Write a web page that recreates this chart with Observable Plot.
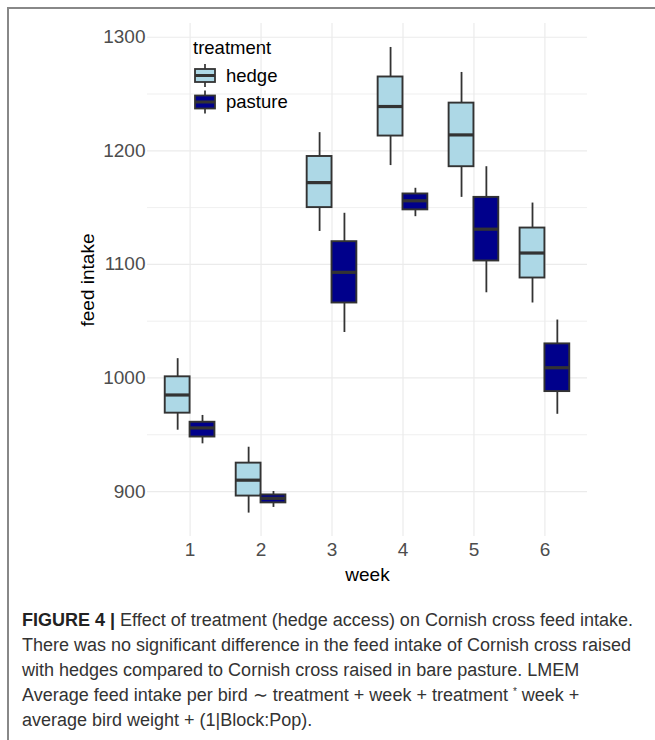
<!DOCTYPE html>
<html>
<head>
<meta charset="utf-8">
<script src="https://cdn.jsdelivr.net/npm/d3@7"></script>
<script src="https://cdn.jsdelivr.net/npm/@observablehq/plot@0.6"></script>
<style>
  html, body { margin: 0; padding: 0; background: #fff; }
  #figure { position: relative; width: 655px; height: 740px; overflow: hidden;
            font-family: "Liberation Sans", Arial, Helvetica, sans-serif; }
  #frame { position: absolute; left: 7px; top: 7px; width: 700px; height: 800px;
           border-top: 2px solid #888; border-left: 2px solid #888; }
  #chart, #legend { position: absolute; left: 0; top: 0; }
  #caption { position: absolute; left: 22px; top: 608px; font-size: 18px; line-height: 25px;
             color: #333; white-space: nowrap; letter-spacing: 0px; }
  #caption b { color: #222; }
  #caption .star { position: relative; top: -6px; font-size: 10px; line-height: 0; }
</style>
</head>
<body>
<div id="figure">
  <div id="frame"></div>
  <div id="chart"></div>
  <div id="legend"></div>
  <div id="caption">
    <b>FIGURE 4 |</b> Effect of treatment (hedge access) on Cornish cross feed intake.<br>
    There was no significant difference in the feed intake of Cornish cross raised<br>
    with hedges compared to Cornish cross raised in bare pasture. LMEM<br>
    Average feed intake per bird ∼ treatment + week + treatment <span class="star">*</span> week +<br>
    average bird weight + (1|Block:Pop).
  </div>
</div>
<script>
// Weeks and treatment groups
const weeks = [1, 2, 3, 4, 5, 6];
const treatments = ["hedge", "pasture"];
const treatmentColors = ["#add8e6", "#00008b"];

// Box-plot summaries per week: lower whisker, lower hinge, median, upper hinge, upper whisker
const hedgeLow    = [954, 881, 1129, 1187, 1159, 1066];
const hedgeQ1     = [969, 896, 1150, 1213, 1186, 1088];
const hedgeMedian = [985, 910, 1172, 1239, 1214, 1110];
const hedgeQ3     = [1001, 925, 1195, 1265, 1242, 1132];
const hedgeHigh   = [1017, 939, 1216, 1291, 1269, 1154];

const pastureLow    = [942, 886, 1040, 1142, 1075, 968];
const pastureQ1     = [948, 890, 1066, 1148, 1103, 988];
const pastureMedian = [956, 894, 1093, 1156, 1131, 1009];
const pastureQ3     = [961, 897, 1120, 1162, 1159, 1030];
const pastureHigh   = [967, 900, 1145, 1167, 1186, 1051];

// Axis ticks
const yTicks = [900, 1000, 1100, 1200, 1300];
const yMinorTicks = [950, 1050, 1150, 1250];

// Long-format rows built from the arrays above
const rows = [];
weeks.forEach((w, i) => {
  rows.push({week: w, treatment: "hedge", low: hedgeLow[i], q1: hedgeQ1[i], median: hedgeMedian[i], q3: hedgeQ3[i], high: hedgeHigh[i]});
  rows.push({week: w, treatment: "pasture", low: pastureLow[i], q1: pastureQ1[i], median: pastureMedian[i], q3: pastureQ3[i], high: pastureHigh[i]});
});

// Dodge the two treatments side by side within each week
const boxWidth = 0.35;
const center = d => d.week + (d.treatment === "hedge" ? -0.5 : 0.5) * boxWidth;
const left = d => center(d) - boxWidth / 2;
const right = d => center(d) + boxWidth / 2;

const grid = "#ebebeb";
const ink = "#333333";

const chart = Plot.plot({
  width: 655,
  height: 590,
  marginLeft: 147,
  marginRight: 68,
  marginTop: 23,
  marginBottom: 54,
  style: {background: "transparent", fontFamily: "'Liberation Sans', Arial, Helvetica, sans-serif", fontSize: "19px"},
  x: {type: "linear", domain: [0.4, 6.6], axis: null},
  y: {domain: [860.4, 1312.1], axis: null},
  color: {domain: treatments, range: treatmentColors},
  marks: [
    Plot.ruleY(yMinorTicks, {stroke: grid, strokeWidth: 0.8}),
    Plot.ruleY(yTicks, {stroke: grid, strokeWidth: 1.2}),
    Plot.ruleX(weeks, {stroke: grid, strokeWidth: 1.2}),
    Plot.axisY(yTicks, {tickSize: 0, tickPadding: 2, fill: "#4d4d4d", label: null, fontSize: 19, tickFormat: d3.format("d")}),
    Plot.axisX(weeks, {tickSize: 0, tickPadding: 6, fill: "#4d4d4d", label: null, fontSize: 19, tickFormat: d3.format("d")}),
    Plot.axisY([], {tickSize: 0, label: "feed intake", labelAnchor: "center", labelArrow: "none", labelOffset: 67, fill: "#000", fontSize: 19}),
    Plot.axisX([], {tickSize: 0, label: "week", labelAnchor: "center", labelArrow: "none", labelOffset: 44, fill: "#000", fontSize: 19}),
    Plot.ruleX(rows, {x: center, y1: "low", y2: "high", stroke: ink, strokeWidth: 1.8}),
    Plot.rect(rows, {x1: left, x2: right, y1: "q1", y2: "q3", fill: "treatment", stroke: ink, strokeWidth: 1.9}),
    Plot.ruleY(rows, {y: "median", x1: left, x2: right, stroke: ink, strokeWidth: 3.2})
  ]
});
document.getElementById("chart").appendChild(chart);

// Legend placed inside the panel, top-left
const legend = d3.create("svg")
  .attr("width", 655).attr("height", 130)
  .style("font-family", "'Liberation Sans', Arial, Helvetica, sans-serif");
legend.append("text")
  .attr("x", 193).attr("y", 54)
  .attr("font-size", 18.5).attr("fill", "#000")
  .text("treatment");
const keyTop = 64, keyStep = 26.5;
treatments.forEach((t, i) => {
  const g = legend.append("g").attr("transform", `translate(195,${keyTop + i * keyStep})`);
  g.append("line").attr("x1", 10).attr("x2", 10).attr("y1", 0).attr("y2", 23)
    .attr("stroke", ink).attr("stroke-width", 1.7);
  g.append("rect").attr("x", 0).attr("y", 5).attr("width", 20).attr("height", 13)
    .attr("fill", treatmentColors[i]).attr("stroke", ink).attr("stroke-width", 1.8);
  g.append("line").attr("x1", 0).attr("x2", 20).attr("y1", 11.5).attr("y2", 11.5)
    .attr("stroke", ink).attr("stroke-width", 3);
  legend.append("text")
    .attr("x", 226).attr("y", keyTop + i * keyStep + 11.5)
    .attr("dy", "0.35em")
    .attr("font-size", 18.5).attr("fill", "#000")
    .text(t);
});
document.getElementById("legend").appendChild(legend.node());
</script>
</body>
</html>
